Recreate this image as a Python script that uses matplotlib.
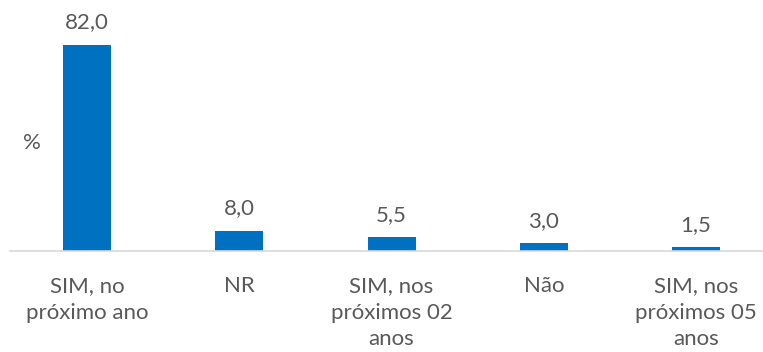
import matplotlib.pyplot as plt

plt.rcParams['font.family'] = ['Lato', 'DejaVu Sans']

categorias = ['SIM, no\npróximo ano', 'NR', 'SIM, nos\npróximos 02\nanos', 'Não',
              'SIM, nos\npróximos 05\nanos']
valores = [82.0, 8.0, 5.5, 3.0, 1.5]
rotulos = ['82,0', '8,0', '5,5', '3,0', '1,5']

cor_barra = '#0070C0'
cor_texto = '#595959'

fig = plt.figure(figsize=(7.63, 3.52), dpi=100)
ax = fig.add_axes([10 / 763, 101 / 352, 753 / 763, 226 / 352])

x = range(len(valores))
barras = ax.bar(x, valores, width=0.315, color=cor_barra)

for b, txt in zip(barras, rotulos):
    ax.annotate(txt, (b.get_x() + b.get_width() / 2, b.get_height()),
                xytext=(0, 9), textcoords='offset points',
                ha='center', va='bottom', fontsize=16, color=cor_texto)

ax.set_xlim(-0.506, 4.44)
ax.set_ylim(0, 90)
ax.set_xticks(list(x))
ax.set_xticklabels(categorias, fontsize=16, color=cor_texto, linespacing=1.42)
ax.tick_params(axis='x', length=0, pad=18)
ax.set_yticks([])

for lado in ['top', 'right', 'left']:
    ax.spines[lado].set_visible(False)
ax.spines['bottom'].set_color('#D9D9D9')
ax.spines['bottom'].set_linewidth(1.2)

fig.text(32 / 763, 1 - 143 / 352, '%', ha='center', va='center',
         fontsize=16, color=cor_texto)

fig.savefig('out.png', dpi=100)
